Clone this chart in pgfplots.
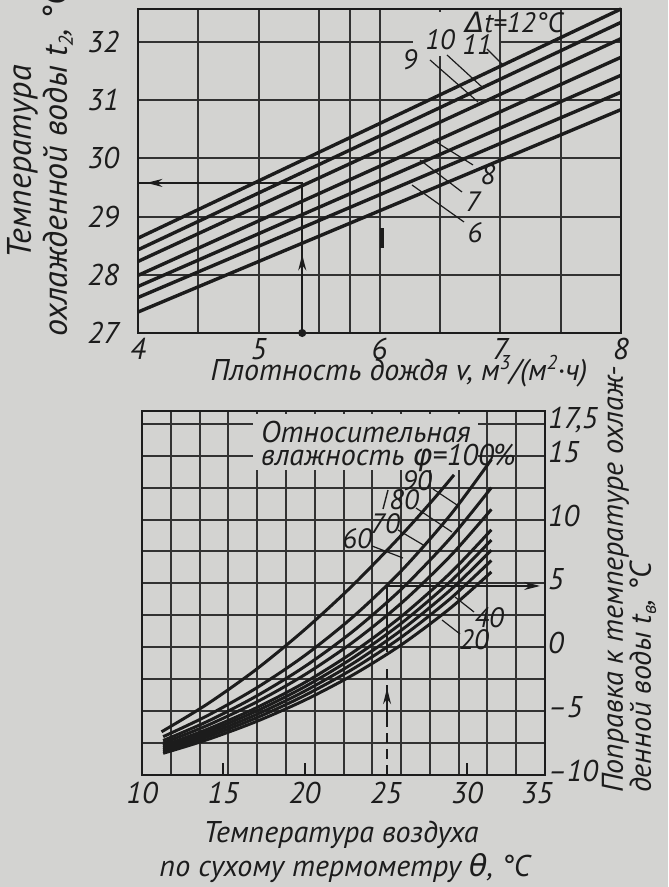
\documentclass[border=0pt]{standalone}
\usepackage{fontspec}
\setmainfont{PT Sans}
\newfontfamily\grk{DejaVu Sans}
\usepackage{pgfplots}
\pgfplotsset{compat=1.18}
\usetikzlibrary{arrows.meta}
\definecolor{bg}{RGB}{211,211,209}
\definecolor{ink}{RGB}{28,28,28}
\definecolor{gridc}{RGB}{50,50,50}
\newcommand\lo[1]{\raisebox{-0.35ex}{\fontsize{10}{10}\selectfont #1}}
\newcommand\hi[1]{\raisebox{0.75ex}{\fontsize{10}{10}\selectfont #1}}
\newcommand\fs[1]{\fontsize{#1}{#1}\selectfont\itshape}
\begin{document}
\begin{tikzpicture}
\path[use as bounding box, fill=bg] (0pt,0pt) rectangle (334pt,443.5pt);
%================ TOP CHART ================
\begin{axis}[
  at={(69pt,277pt)}, anchor=south west, scale only axis,
  width=241.5pt, height=162pt,
  xmin=4, xmax=8, ymin=27, ymax=32.57,
  clip=false,
  axis line style={ink, line width=1.1pt},
  xtick={4,5,6,7,8}, xticklabels={4,5,6,7,8},
  ytick={27,28,29,30,31,32}, yticklabels={27,28,29,30,31,32},
  minor xtick={4.5,5.5,5.756,6.5,7.5},
  grid=both,
  major grid style={gridc, line width=1pt},
  minor grid style={gridc, line width=1pt},
  major tick length=0pt, minor tick length=0pt,
  tick label style={font=\fs{15}, text=ink},
  xticklabel style={yshift=1pt},
  yticklabel style={xshift=-6pt},
]
\addplot[ink, line width=1.7pt] coordinates {(4,28.63) (8,32.57)}; % 12
\addplot[ink, line width=1.7pt] coordinates {(4,28.43) (8,32.34)}; % 11
\addplot[ink, line width=1.7pt] coordinates {(4,28.23) (8,32.06)}; % 10
\addplot[ink, line width=1.7pt] coordinates {(4,27.99) (8,31.74)}; % 9
\addplot[ink, line width=1.7pt] coordinates {(4,27.80) (8,31.43)}; % 8
\addplot[ink, line width=1.7pt] coordinates {(4,27.61) (8,31.14)}; % 7
\addplot[ink, line width=1.7pt] coordinates {(4,27.36) (8,30.84)}; % 6
% worked example
\addplot[ink, line width=0.9pt] coordinates {(5.36,27) (5.36,29.58) (4,29.58)};
\addplot[ink, line width=0.9pt, -{Stealth[length=8pt,width=4pt]}] coordinates {(5.36,27.7) (5.36,28.35)};
\addplot[ink, line width=0.9pt, -{Stealth[length=8pt,width=4pt]}] coordinates {(4.6,29.58) (4.07,29.58)};
\addplot[ink, only marks, mark=*, mark size=1.8pt] coordinates {(5.36,27)};
\addplot[ink, line width=1.8pt] coordinates {(6.02,28.46) (6.02,28.8)};
\end{axis}
%================ BOTTOM CHART ================
\begin{axis}[
  at={(71pt,56pt)}, anchor=south west, scale only axis,
  width=201.5pt, height=182pt,
  xmin=10, xmax=34.8, ymin=-10, ymax=18.5,
  axis line style={ink, line width=1.1pt},
  xtick={10,15,20,25,30,34.3}, xticklabels={10,15,20,25,30,35},
  minor xtick={11.771,13.543,15.314,17.086,18.857,20.629,22.4,24.171,25.943,27.714,29.486,31.257,33.029},
  xminorgrids=true, xmajorgrids=false,
  ytick={-10,-7.5,-5,-2.5,0,2.5,5,7.5,10,12.5,15,17.5},
  yticklabels={–10,,–5,,0,,5,,10,,15,{17,5}},
  ymajorgrids=true,
  yticklabel pos=right, ytick pos=right, xtick pos=left,
  major grid style={gridc, line width=1pt},
  minor grid style={gridc, line width=1pt},
  major tick length=0pt, minor tick length=0pt,
  extra x ticks={15,20,30}, extra x tick labels={,,},
  extra x tick style={grid=none, major tick length=6pt, tick style={ink, line width=1pt}},
  tick label style={font=\fs{15}, text=ink},
  yticklabel style={xshift=-2pt, yshift=2pt},
]
\addplot[ink, line width=1.5pt, smooth] coordinates {(11.2,-6.62) (14,-4.46) (17,-1.76) (20,1.37) (23,4.89) (26,8.83) (28,11.68) (29.2,13.5)}; % 100
\addplot[ink, line width=1.5pt, smooth] coordinates {(11.3,-7.0) (14,-5.37) (17,-3.22) (20,-0.66) (23,2.40) (26,6.04) (29,10.40) (31.5,14.7)}; % 90
\addplot[ink, line width=1.5pt, smooth] coordinates {(11.3,-7.3) (14,-5.82) (17,-3.85) (20,-1.52) (23,1.27) (26,4.60) (29,8.58) (31.5,12.5)}; % 80
\addplot[ink, line width=1.5pt, smooth] coordinates {(11.3,-7.5) (14,-6.13) (17,-4.32) (20,-2.16) (23,0.42) (26,3.50) (29,7.18) (31.5,10.8)}; % 70
\addplot[ink, line width=1.5pt, smooth] coordinates {(11.3,-7.7) (14,-6.43) (17,-4.76) (20,-2.77) (23,-0.38) (26,2.46) (29,5.85) (31.5,9.2)}; % 60
\addplot[ink, line width=1.5pt, smooth] coordinates {(11.3,-7.85) (14,-6.63) (17,-5.02) (20,-3.10) (23,-0.81) (26,1.92) (29,5.18) (31.5,8.4)}; % 50
\addplot[ink, line width=1.5pt, smooth] coordinates {(11.3,-8.0) (14,-6.83) (17,-5.29) (20,-3.44) (23,-1.25) (26,1.38) (29,4.51) (31.5,7.6)}; % 40
\addplot[ink, line width=1.5pt, smooth] coordinates {(11.3,-8.15) (14,-7.03) (17,-5.55) (20,-3.78) (23,-1.68) (26,0.83) (29,3.84) (31.5,6.8)}; % 30
\addplot[ink, line width=1.5pt, smooth] coordinates {(11.3,-8.3) (14,-7.24) (17,-5.83) (20,-4.15) (23,-2.15) (26,0.23) (29,3.09) (31.5,5.9)}; % 20
% worked example
\addplot[ink, line width=0.9pt, dash pattern=on 5pt off 3pt] coordinates {(25.08,-10) (25.08,-1.4)};
\addplot[ink, line width=0.9pt, -{Stealth[length=8pt,width=4pt]}] coordinates {(25.08,-0.4) (25.08,4.8) (34.5,4.8)};
\addplot[ink, line width=0.9pt, -{Stealth[length=8pt,width=4pt]}] coordinates {(25.08,-5.5) (25.08,-3.2)};
\end{axis}
%================ TEXT (pixel frame) ================
\begin{scope}[shift={(0pt,443.5pt)}, x=0.5pt, y=-0.5pt, color=ink]
\fill[bg] (413,12) rectangle (499,56);
\fill[bg] (253,414) rectangle (478,470);
% top chart
\node[rotate=90, align=center, font=\fontsize{17}{18}\selectfont\itshape] at (40,162) {Температура\\охлажденной воды t\lo{2}, °C};
\node[font=\fs{15}] at (399,371) {Плотность дождя v, м\hi{3}/(м\hi{2}·ч)};
\node[font=\fs{14}] at (514,22) {{\grk Δ}t=12°C};
\node[font=\fs{14}] at (477,45) {11};
\node[font=\fs{14}] at (440,40) {10};
\node[font=\fs{14}] at (410,60) {9};
\node[font=\fs{14}] at (488,175) {8};
\node[font=\fs{14}] at (473,202) {7};
\node[font=\fs{14}] at (475,233) {6};
\draw[line width=0.6pt] (487,49)--(503,65);
\draw[line width=0.6pt] (447,55)--(482,87);
\draw[line width=0.6pt] (430,60)--(478,102);
\draw[line width=0.6pt] (473,165)--(433,140);
\draw[line width=0.6pt] (462,192)--(420,160);
\draw[line width=0.6pt] (464,222)--(412,185);
% bottom chart
\node[anchor=west, font=\fs{15}] at (254,432) {Относительная};
\node[anchor=west, font=\fs{15}] at (254,458) {влажность {\grk φ}=100\%};
\node[font=\fs{14}] at (417,481) {90};
\node[font=\fs{14}] at (404,500) {80};
\draw[line width=0.7pt] (383,509)--(388,490);
\node[font=\fs{14}] at (385,524) {70};
\node[font=\fs{14}] at (357,539) {60};
\node[font=\fs{14}] at (489,618) {40};
\node[font=\fs{14}] at (474,640) {20};
\draw[line width=0.6pt] (433,489)--(457,505);
\draw[line width=0.6pt] (416,508)--(452,532);
\draw[line width=0.6pt] (398,530)--(425,546);
\draw[line width=0.6pt] (372,546)--(403,558);
\draw[line width=0.6pt] (474,612)--(455,597);
\draw[line width=0.6pt] (460,634)--(442,620);
\node[rotate=90, anchor=west, align=left, font=\fontsize{15}{14}\selectfont\itshape] at (629,800) {Поправка к температуре охлаж-\\денной воды t\lo{в}, °C};
\node[font=\fs{15}] at (341,835) {Температура воздуха};
\node[font=\fs{15}] at (345,868) {по сухому термометру {\grk θ}, °C};
\end{scope}
\end{tikzpicture}
\end{document}
